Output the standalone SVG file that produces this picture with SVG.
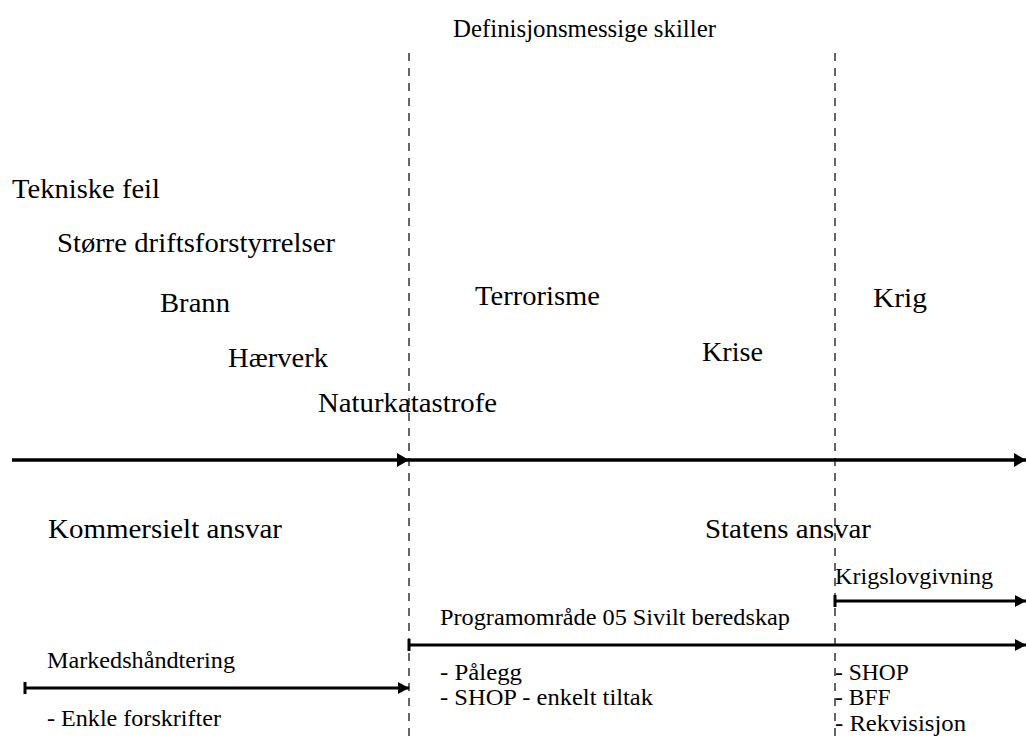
<svg xmlns="http://www.w3.org/2000/svg" width="1026" height="740" viewBox="0 0 1026 740">
<style>
text{font-family:"Liberation Serif","Times New Roman",Times,Tinos,"Nimbus Roman","Nimbus Roman No9 L",FreeSerif,"DejaVu Serif","Noto Serif",serif;fill:#000}
.big{font-size:28px}
.title{font-size:25px}
.small{font-size:23.5px}
.dash{stroke:#000;stroke-width:1.2;stroke-dasharray:8 7;fill:none}
.axis{stroke:#000;stroke-width:3.5;fill:none}
.bar{stroke:#000;stroke-width:3;fill:none}
</style>
<defs>
<marker id="ah" markerUnits="userSpaceOnUse" viewBox="0 0 12 14" refX="12" refY="7" markerWidth="12" markerHeight="14" orient="auto"><path d="M0,0 L12,7 L0,14 Z" fill="#000"/></marker>
<marker id="ahs" markerUnits="userSpaceOnUse" viewBox="0 0 11 12" refX="11" refY="6" markerWidth="11" markerHeight="12" orient="auto"><path d="M0,0 L11,6 L0,12 Z" fill="#000"/></marker>
</defs>
<rect width="1026" height="740" fill="#fff"/>
<g id="title"><text class="title" x="453" y="37" textLength="263" lengthAdjust="spacingAndGlyphs" font-family="Liberation Serif, serif">Definisjonsmessige skiller</text></g>
<g id="separators">
<line class="dash" x1="409" y1="53" x2="409" y2="740"/>
<line class="dash" x1="835" y1="53" x2="835" y2="740"/>
</g>
<g id="events">
<text class="big" x="12" y="198" textLength="148" lengthAdjust="spacingAndGlyphs">Tekniske feil</text>
<text class="big" x="57" y="252" textLength="278" lengthAdjust="spacingAndGlyphs">Større driftsforstyrrelser</text>
<text class="big" x="160" y="312" textLength="70" lengthAdjust="spacingAndGlyphs">Brann</text>
<text class="big" x="228" y="367" textLength="100" lengthAdjust="spacingAndGlyphs">Hærverk</text>
<text class="big" x="318" y="412" textLength="179" lengthAdjust="spacingAndGlyphs">Naturkatastrofe</text>
<text class="big" x="475" y="305" textLength="125" lengthAdjust="spacingAndGlyphs">Terrorisme</text>
<text class="big" x="702" y="361" textLength="61" lengthAdjust="spacingAndGlyphs">Krise</text>
<text class="big" x="873" y="307" textLength="54" lengthAdjust="spacingAndGlyphs">Krig</text>
</g>
<g id="connectors">
<line class="axis" x1="12" y1="460" x2="409" y2="460" marker-end="url(#ah)"/>
<line class="axis" x1="409" y1="460" x2="1026" y2="460" marker-end="url(#ah)"/>
<line class="bar" x1="835" y1="601" x2="1026" y2="601" marker-end="url(#ahs)"/>
<line class="bar" x1="835" y1="595" x2="835" y2="607"/>
<line class="bar" x1="409" y1="645" x2="1026" y2="645" marker-end="url(#ahs)"/>
<line class="bar" x1="409" y1="639" x2="409" y2="651"/>
<line class="bar" x1="25" y1="688" x2="409" y2="688" marker-end="url(#ahs)"/>
<line class="bar" x1="25" y1="682" x2="25" y2="694"/>
</g>
<g id="responsibility">
<text class="big" x="48" y="538" textLength="234" lengthAdjust="spacingAndGlyphs">Kommersielt ansvar</text>
<text class="big" x="705" y="538" textLength="166" lengthAdjust="spacingAndGlyphs">Statens ansvar</text>
</g>
<g id="krigslovgivning"><text class="small" x="835" y="584" textLength="158" lengthAdjust="spacingAndGlyphs">Krigslovgivning</text>
<text class="small" x="835" y="680">- SHOP</text>
<text class="small" x="835" y="705">- BFF</text>
<text class="small" x="835" y="731" textLength="131" lengthAdjust="spacingAndGlyphs">- Rekvisisjon</text>
</g>
<g id="programomrade"><text class="small" x="440" y="625" textLength="350" lengthAdjust="spacingAndGlyphs">Programområde 05 Sivilt beredskap</text>
<text class="small" x="440" y="680" textLength="82" lengthAdjust="spacingAndGlyphs">- Pålegg</text>
<text class="small" x="440" y="705" textLength="213" lengthAdjust="spacingAndGlyphs">- SHOP - enkelt tiltak</text>
</g>
<g id="markedshandtering"><text class="small" x="47" y="668" textLength="188" lengthAdjust="spacingAndGlyphs">Markedshåndtering</text>
<text class="small" x="47" y="726" textLength="174" lengthAdjust="spacingAndGlyphs">- Enkle forskrifter</text>
</g>
</svg>
